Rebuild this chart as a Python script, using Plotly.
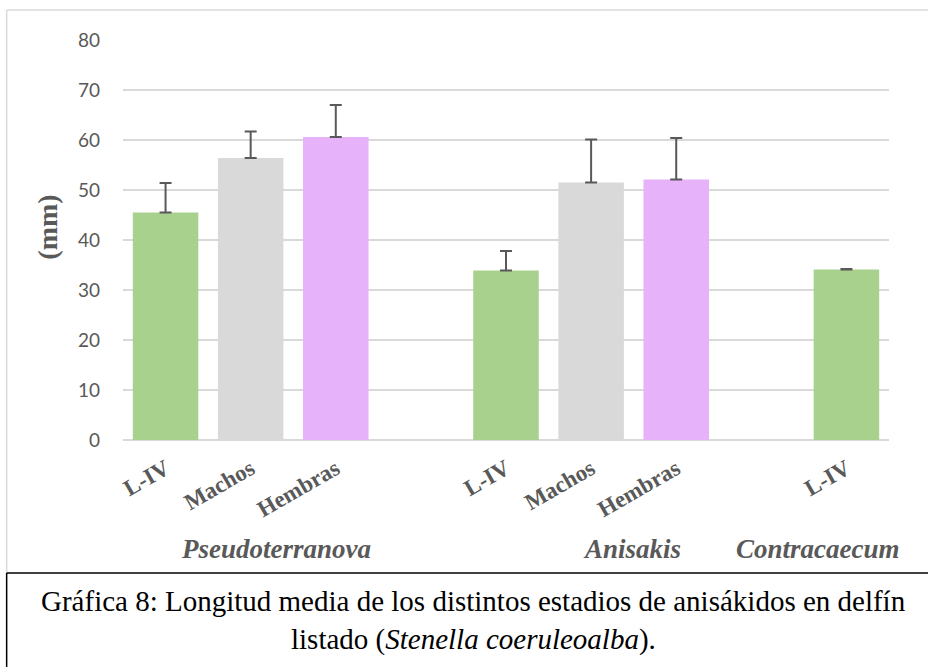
import plotly.graph_objects as go

# ---- data ----
groups = ["Pseudoterranova", "Anisakis", "Contracaecum"]
stages = [["L-IV", "Machos", "Hembras"], ["L-IV", "Machos", "Hembras"], ["L-IV"]]
means = [[45.5, 56.4, 60.6], [33.9, 51.5, 52.1], [34.1]]
errors = [[5.9, 5.3, 6.4], [3.9, 8.6, 8.3], [0.1]]
stage_colors = {"L-IV": "#A9D18E", "Machos": "#D9D9D9", "Hembras": "#E6B3FB"}
y_ticks = [0, 10, 20, 30, 40, 50, 60, 70, 80]

# build slot positions (one empty slot between groups)
xs, ys, es, labels, cols = [], [], [], [], []
pos = 0
for g, st, mv, ev in zip(groups, stages, means, errors):
    for s, m, e in zip(st, mv, ev):
        xs.append(pos); ys.append(m); es.append(e); labels.append(s); cols.append(stage_colors[s])
        pos += 1
    pos += 1
n_slots = pos - 1

W, H = 928, 667
L, R, T, B = 123.3, 889.0, 40.0, 440.0

def px(x):
    return (x - L) / (R - L)

def py(y):
    return (B - y) / (B - T)

fig = go.Figure()
fig.add_trace(go.Bar(
    x=xs, y=ys, width=0.77,
    marker=dict(color=cols, line=dict(width=0)),
    error_y=dict(type="data", array=es, arrayminus=[0] * len(es), symmetric=False,
                 color="#595959", thickness=2, width=6),
    hoverinfo="skip",
))

GRAY = "#595959"
SERIF = "Liberation Serif"

fig.update_layout(
    width=W, height=H,
    margin=dict(l=L, r=W - R, t=T, b=H - B),
    paper_bgcolor="white", plot_bgcolor="white",
    showlegend=False,
    xaxis=dict(
        range=[-0.5, n_slots - 0.5],
        tickmode="array", tickvals=xs, ticktext=labels, tickangle=-30,
        tickfont=dict(family=SERIF, size=23, color=GRAY, weight="bold"),
        showgrid=False, zeroline=False, showline=False, ticks="",
        ticklabelstandoff=10,
        fixedrange=True,
    ),
    yaxis=dict(
        range=[0, 80], tickmode="array", tickvals=y_ticks,
        tickfont=dict(family="Lato", size=19, color=GRAY),
        showgrid=True, gridcolor="#D9D9D9", gridwidth=1.5,
        zeroline=True, zerolinecolor="#D9D9D9", zerolinewidth=1.5,
        showline=False, ticks="", ticklabelstandoff=22,
        fixedrange=True,
    ),
)

# group labels
group_label_x = [1.3, 5.48, 7.66]
for g, gx in zip(groups, group_label_x):
    fig.add_annotation(x=gx, y=py(549), xref="x", yref="paper", text=f"<i><b>{g}</b></i>",
                       showarrow=False, xanchor="center", yanchor="middle",
                       font=dict(family=SERIF, size=27, color=GRAY))

# y axis title
fig.add_annotation(x=px(47), y=py(227), xref="paper", yref="paper", text="<b>(mm)</b>",
                   textangle=-90, showarrow=False, xanchor="center", yanchor="middle",
                   font=dict(family=SERIF, size=28, color=GRAY))

# caption
fig.add_annotation(x=px(474), y=py(601), xref="paper", yref="paper",
                   text="Gráfica 8: Longitud media de los distintos estadios de anisákidos en delfín",
                   showarrow=False, xanchor="center", yanchor="middle",
                   font=dict(family=SERIF, size=29, color="black"))
fig.add_annotation(x=px(474), y=py(639), xref="paper", yref="paper",
                   text="listado (<i>Stenella coeruleoalba</i>).",
                   showarrow=False, xanchor="center", yanchor="middle",
                   font=dict(family=SERIF, size=29, color="black"))

# frames
frame = [
    (7, 10, 935, 10, "#D9D9D9", 1.5),
    (7, 10, 7, 573, "#D9D9D9", 1.5),
    (7, 573, 935, 573, "black", 1.5),
    (7, 573, 7, 670, "black", 1.5),
]
for x0, y0, x1, y1, c, w in frame:
    fig.add_shape(type="line", xref="paper", yref="paper",
                  x0=px(x0), y0=py(y0), x1=px(x1), y1=py(y1),
                  line=dict(color=c, width=w))

fig.write_html("out.html", config={"displayModeBar": False},
               post_script="document.body.style.margin='0';document.body.style.overflow='hidden';document.documentElement.style.overflow='hidden';")
